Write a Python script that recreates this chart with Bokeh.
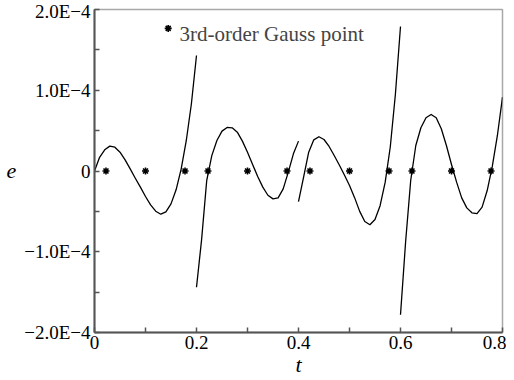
from bokeh.plotting import figure
from bokeh.models import Range1d, FixedTicker, Label
from bokeh.embed import file_html
from bokeh.resources import INLINE

# ---- data (e in units of 1E-4) ----
t_local = [0.00, 0.01, 0.02, 0.03, 0.04, 0.05, 0.06, 0.07, 0.08, 0.09, 0.10,
           0.11, 0.12, 0.13, 0.14, 0.15, 0.16, 0.17, 0.18, 0.19, 0.20]
segment_starts = [0.0, 0.2, 0.4, 0.6]

e_seg1 = [0.0, 0.17, 0.262, 0.308, 0.295, 0.233, 0.138, 0.027, -0.089, -0.20, -0.316,
          -0.42, -0.498, -0.535, -0.506, -0.407, -0.233, 0.027, 0.378, 0.833, 1.43]
e_seg2 = [-1.44, -0.85, -0.12, 0.19, 0.378, 0.494, 0.539, 0.535, 0.481, 0.37, 0.233,
          0.081, -0.068, -0.2, -0.30, -0.345, -0.333, -0.221, -0.014, 0.213, 0.37]
e_seg3 = [-0.378, -0.076, 0.233, 0.386, 0.424, 0.39, 0.304, 0.192, 0.075, -0.05, -0.18,
          -0.33, -0.50, -0.625, -0.665, -0.60, -0.43, -0.138, 0.30, 0.95, 1.79]
e_seg4 = [-1.78, -0.88, -0.118, 0.316, 0.535, 0.659, 0.70, 0.659, 0.523, 0.316, 0.081,
          -0.138, -0.333, -0.457, -0.518, -0.528, -0.448, -0.242, 0.056, 0.44, 0.915]
segments = [e_seg1, e_seg2, e_seg3, e_seg4]

gauss_t = [0.0225, 0.1, 0.1775, 0.2225, 0.3, 0.3775,
           0.4225, 0.5, 0.5775, 0.6225, 0.7, 0.7775]
gauss_e = [0.0] * len(gauss_t)

x_ticks = [0.0, 0.1, 0.2, 0.3, 0.4, 0.5, 0.6, 0.7, 0.8]
x_tick_labels = ["0", "", "0.2", "", "0.4", "", "0.6", "", "0.8"]
y_ticks = [-2, -1.5, -1, -0.5, 0, 0.5, 1, 1.5, 2]
y_tick_labels = ["\u22122.0E\u22124", "", "\u22121.0E\u22124", "", "0", "",
                 "1.0E\u22124", "", "2.0E\u22124"]

legend_text = "3rd-order Gauss point"
FONT = "Liberation Serif"

p = figure(width=506, height=380, x_range=Range1d(0, 0.8), y_range=Range1d(-2, 2),
           output_backend="svg", toolbar_location=None,
           min_border_left=94, min_border_right=4, min_border_top=9, min_border_bottom=48)
p.grid.visible = False
p.background_fill_color = "white"
p.outline_line_color = "#a8a8a8"
p.outline_line_width = 1.5

for ax, ticks, labels in ((p.xaxis[0], x_ticks, x_tick_labels), (p.yaxis[0], y_ticks, y_tick_labels)):
    ax.ticker = FixedTicker(ticks=ticks)
    ax.major_label_overrides = {k: v for k, v in zip(ticks, labels)}
    ax.axis_line_color = "#555555"
    ax.axis_line_width = 2
    ax.major_tick_line_color = "#555555"
    ax.major_tick_line_width = 1.5
    ax.major_tick_in = 5
    ax.major_tick_out = 0
    ax.minor_tick_line_color = None
    ax.major_label_text_font = FONT
    ax.major_label_text_font_size = "19px"
    ax.major_label_text_color = "black"
    ax.major_label_standoff = 4
    ax.axis_label_text_font = FONT
    ax.axis_label_text_font_style = "italic"
    ax.axis_label_text_font_size = "22px"
    ax.axis_label_text_color = "black"
p.xaxis[0].major_label_standoff = 3

p.xaxis[0].axis_label = "t"
p.xaxis[0].axis_label_standoff = 0
p.yaxis[0].axis_label = "e"
p.yaxis[0].axis_label_standoff = 5
try:
    p.yaxis[0].axis_label_orientation = "horizontal"
except Exception:
    pass

for start, seg in zip(segment_starts, segments):
    ts = [start + v for v in t_local]
    p.line(ts, seg, line_color="black", line_width=1.3, line_join="round")

p.scatter(gauss_t, gauss_e, marker="asterisk", size=7, line_color="black", line_width=1.6)

# legend (marker + text)
p.scatter([0.1445], [1.766], marker="asterisk", size=7, line_color="black", line_width=1.6)
p.add_layout(Label(x=0.1667, y=1.70, text=legend_text, text_font=FONT,
                   text_font_size="21px", text_baseline="alphabetic", text_align="left"))

open("out.html", "w").write(file_html(p, INLINE))
